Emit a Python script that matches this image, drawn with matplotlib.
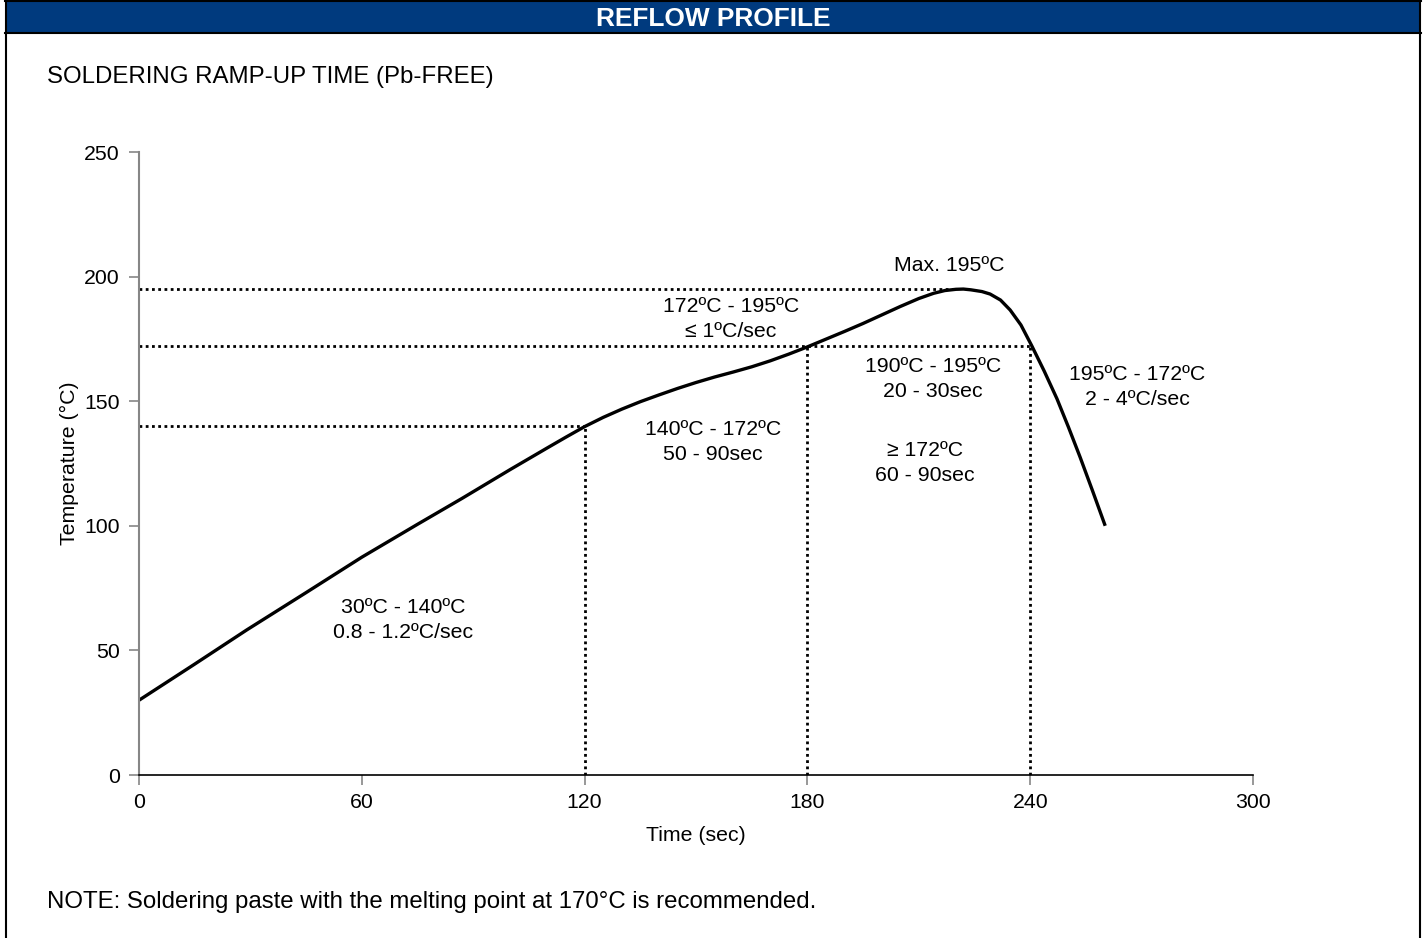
import matplotlib
matplotlib.use("Agg")
import matplotlib.pyplot as plt
from matplotlib.patches import Rectangle
from matplotlib.lines import Line2D

plt.rcParams['font.family'] = ['Liberation Sans', 'DejaVu Sans']

# ---- data ----
time_s = [0, 15, 29, 45, 60, 75, 87, 100, 110, 115, 120, 125, 130, 135, 140, 145, 150, 155, 160,
          165, 170, 175, 180, 185, 190, 195, 200, 205, 210, 214, 217, 220, 222, 224, 227, 229.2,
          232, 234.6, 237.5, 240.4, 243.8, 247.2, 250.3, 253.4, 256.8, 260.2]
temp_c = [30, 44.5, 58.2, 73.2, 87.4, 100.6, 111.0, 122.6, 131.3, 135.6, 139.8, 143.5, 146.8,
          149.8, 152.5, 155.1, 157.5, 159.7, 161.7, 163.8, 166.2, 168.9, 171.8, 174.9, 178.0,
          181.2, 184.6, 188.0, 191.2, 193.3, 194.4, 194.9, 195.0, 194.7, 194.0, 193.0, 190.6,
          186.6, 180.6, 172.3, 162.0, 151.0, 139.6, 127.7, 114.0, 100.0]

h_levels = [195, 172, 140]          # horizontal dotted guide temperatures
h_ends = [220, 240, 120]            # time where each horizontal guide ends
v_times = [120, 180, 240]           # vertical dotted guide times
v_tops = [140, 172, 172]            # temperature where each vertical guide ends

x_ticks = [0, 60, 120, 180, 240, 300]
y_ticks = [0, 50, 100, 150, 200, 250]

annotations = [
    ("Max. 195ºC", 218.2, 204.3),
    ("172ºC - 195ºC\n≤ 1ºC/sec", 159.4, 183.0),
    ("190ºC - 195ºC\n20 - 30sec", 213.8, 158.9),
    ("≥ 172ºC\n60 - 90sec", 211.7, 125.2),
    ("140ºC - 172ºC\n50 - 90sec", 154.6, 133.6),
    ("30ºC - 140ºC\n0.8 - 1.2ºC/sec", 71.1, 62.2),
    ("195ºC - 172ºC\n2 - 4ºC/sec", 268.8, 155.7),
]

W, H = 1426, 938
fig = plt.figure(figsize=(W / 100, H / 100), dpi=100)
fig.patch.set_facecolor("white")

# ---- frame and header ----
blue = "#003A7E"
fig.add_artist(Rectangle((7 / W, 1 - 32.5 / H), 1412 / W, 30 / H, transform=fig.transFigure,
                         facecolor=blue, edgecolor="none"))
lw_frame = 1.5
fig.add_artist(Line2D([6 / W, 6 / W], [0, 1 - 1.5 / H], transform=fig.transFigure, color="black", lw=lw_frame))
fig.add_artist(Line2D([1420 / W, 1420 / W], [0, 1 - 1.5 / H], transform=fig.transFigure, color="black", lw=lw_frame))
fig.add_artist(Line2D([5 / W, 1421 / W], [1 - 1.5 / H, 1 - 1.5 / H], transform=fig.transFigure, color="black", lw=lw_frame))
fig.add_artist(Line2D([5 / W, 1421 / W], [1 - 33.5 / H, 1 - 33.5 / H], transform=fig.transFigure, color="black", lw=lw_frame))
fig.text(713 / W, 1 - 18.5 / H, "REFLOW PROFILE", color="white", fontsize=18.9, fontweight="bold",
         ha="center", va="center")
fig.text(47 / W, 1 - 77 / H, "SOLDERING RAMP-UP TIME (Pb-FREE)", fontsize=17.3, ha="left", va="center")
fig.text(47 / W, 1 - 902 / H, "NOTE: Soldering paste with the melting point at 170°C is recommended.",
         fontsize=17.3, ha="left", va="center")

# ---- axes ----
left, right = 139 / W, 1253 / W
bottom, top = 1 - 775 / H, 1 - 152 / H
ax = fig.add_axes([left, bottom, right - left, top - bottom])
ax.set_xlim(x_ticks[0], x_ticks[-1])
ax.set_ylim(y_ticks[0], y_ticks[-1])
ax.set_xticks(x_ticks)
ax.set_yticks(y_ticks)
for s in ("top", "right"):
    ax.spines[s].set_visible(False)
ax.spines["left"].set_color("#868686")
ax.spines["left"].set_linewidth(1.5)
ax.spines["bottom"].set_color("black")
ax.spines["bottom"].set_linewidth(1.2)
ax.tick_params(axis="both", direction="out", length=7, width=1.2, color="#868686", labelsize=15.3)
ax.tick_params(axis="y", pad=7)
ax.tick_params(axis="x", pad=6)
ax.set_xlabel("Time (sec)", fontsize=15.3, labelpad=10)
ax.set_ylabel("Temperature (°C)", fontsize=15.3, labelpad=3.5)

dot = dict(color="black", lw=2.0, linestyle=(0, (1, 1.25)), dash_capstyle="butt")
for lvl, end in zip(h_levels, h_ends):
    ax.plot([0, end], [lvl, lvl], **dot)
for t, tp in zip(v_times, v_tops):
    ax.plot([t, t], [0, tp], **dot)

ax.plot(time_s, temp_c, color="black", lw=2.4, solid_capstyle="butt", solid_joinstyle="round",
        clip_on=False)

for txt, x, y in annotations:
    ax.text(x, y, txt, ha="center", va="center", fontsize=15.3, linespacing=1.38)

fig.savefig("out.png", dpi=100)
